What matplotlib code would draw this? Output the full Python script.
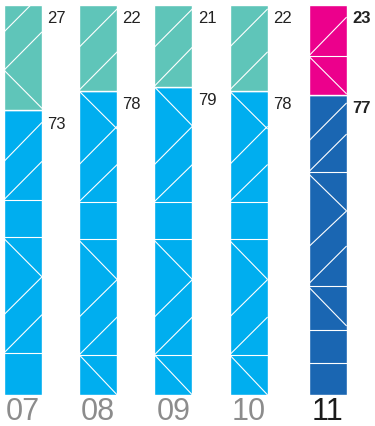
import matplotlib
matplotlib.use('Agg')
import matplotlib.pyplot as plt
from matplotlib.collections import LineCollection
import matplotlib.transforms as mtrans
import numpy as np

# ---- data ----
years = ['07', '08', '09', '10', '11']
top_share = [27, 22, 21, 22, 23]
bottom_share = [73, 78, 79, 78, 77]

# ---- style ----
top_colors = ['#5fc5b9', '#5fc5b9', '#5fc5b9', '#5fc5b9', '#ec008c']
bottom_colors = ['#00aeef', '#00aeef', '#00aeef', '#00aeef', '#1a66b2']
tick_colors = ['#8c8c8c', '#8c8c8c', '#8c8c8c', '#8c8c8c', '#1a1a1a']
label_weights = ['normal', 'normal', 'normal', 'normal', 'bold']
FONT = 'Liberation Sans'

# decorative white line pattern inside each bar: (kind, y0, y1)
mid = [('\\', 0, 10.3), ('-', 10.3, 10.3), ('/', 10.3, 20.0), ('/', 20.0, 29.6),
       ('\\', 29.6, 39.6), ('-', 40.1, 40.1), ('-', 49.6, 49.6), ('/', 49.6, 59.1),
       ('/', 59.1, 68.9)]
deco = [
    [('-', 10.8, 10.8), ('/', 10.8, 20.6), ('/', 20.6, 30.3), ('\\', 30.3, 40.1),
     ('-', 40.6, 40.6), ('-', 50.1, 50.1), ('/', 50.1, 59.9), ('/', 59.9, 69.9),
     ('\\', 73.5, 83.3), ('/', 83.3, 93.1), ('/', 93.1, 102.9)],
    mid + [('\\', 68.2, 77.9), ('/', 78.2, 88.0), ('/', 89.2, 99.0)],
    mid + [('\\', 69.0, 79.0), ('/', 79.2, 89.2), ('/', 89.2, 99.0)],
    mid + [('\\', 68.2, 77.9), ('/', 78.2, 88.0), ('/', 89.2, 99.0)],
    [('-', 8.2, 8.2), ('-', 16.7, 16.7), ('\\', 17.7, 27.7), ('-', 28.0, 28.0),
     ('/', 28.5, 38.2), ('/', 38.0, 47.2), ('\\', 47.2, 56.7), ('-', 57.3, 57.3),
     ('/', 57.2, 66.9), ('/', 65.1, 74.9),
     ('\\', 77.2, 86.9), ('-', 86.9, 86.9), ('/', 86.9, 96.9)],
]

W, H, DPI = 3.75, 4.27, 100
fig = plt.figure(figsize=(W, H), dpi=DPI)
ax = fig.add_axes([0, 31 / 427, 1, 390 / 427])

pos = np.arange(len(years), dtype=float)
pos[-1] += 0.05
bw = 0.505

ax.bar(pos, bottom_share, width=bw, color=bottom_colors,
       edgecolor='white', linewidth=1.0)
ax.bar(pos, top_share, width=bw, bottom=bottom_share, color=top_colors,
       edgecolor='white', linewidth=1.0)

segs = []
for i, cells in enumerate(deco):
    l, r = pos[i] - bw / 2, pos[i] + bw / 2
    for kind, y0, y1 in cells:
        if kind == '/':
            segs.append([(l, y0), (r, y1)])
        elif kind == '\\':
            segs.append([(l, y1), (r, y0)])
        else:
            segs.append([(l, y0), (r, y0)])
ax.add_collection(LineCollection(segs, colors='white', linewidths=0.8))

ax.set_xlim(-0.306, 4.68)
ax.set_ylim(0, 100)
ax.axis('off')

# value labels
for i in range(len(years)):
    r = pos[i] + bw / 2
    for val, top in ((top_share[i], 100), (bottom_share[i], bottom_share[i])):
        ax.annotate(str(val), xy=(r, top), xytext=(3.8, -12.4),
                    textcoords='offset points', ha='left', va='baseline',
                    fontsize=12, family=FONT, color='#222222',
                    fontweight=label_weights[i])

# category labels
tr = mtrans.blended_transform_factory(ax.transData, ax.transAxes)
for i, y in enumerate(years):
    ax.text(pos[i], -0.0628, y, transform=tr, ha='center', va='baseline',
            fontsize=22, family=FONT, color=tick_colors[i])

fig.savefig('out.png', dpi=DPI)
